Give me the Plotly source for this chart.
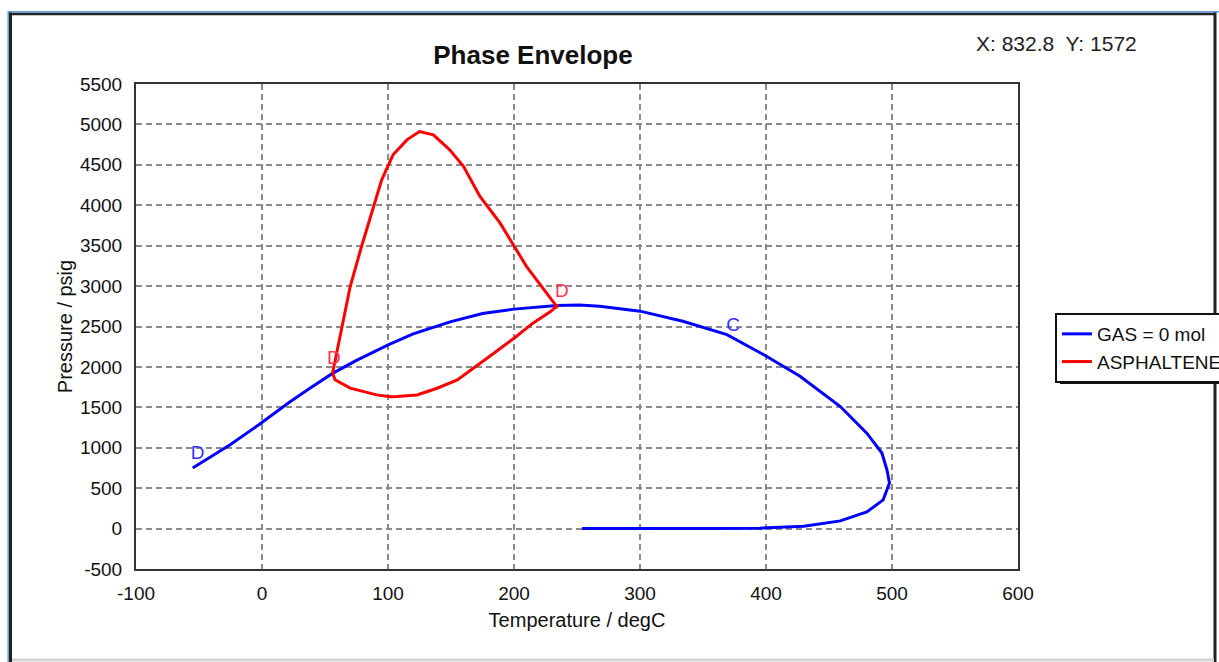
import plotly.graph_objects as go

# ---------------- data ----------------
gas_T = [-55, -40, -25, -2, 22, 38, 56, 75, 91, 101, 120, 150, 175, 200, 234, 252, 268,
         300, 334, 369, 400, 427, 459, 480, 492, 496, 498, 493, 480, 459, 430, 395, 350, 300, 254]
gas_P = [750, 900, 1040, 1290, 1565, 1735, 1920, 2080, 2200, 2280, 2410, 2560, 2660, 2715, 2760, 2767, 2750,
         2690, 2565, 2400, 2135, 1885, 1510, 1180, 935, 725, 565, 355, 205, 95, 30, 5, 2, 0, 0]

asph_T = [56, 59, 63, 70, 79, 87, 95, 104, 115, 125, 136, 149, 160, 173, 189, 210, 234, 235,
          229, 215, 200, 184, 168, 155, 139, 123, 107, 102, 91, 86, 70, 58, 56]
asph_P = [1922, 2150, 2460, 2994, 3490, 3900, 4314, 4624, 4809, 4912, 4871, 4686, 4479, 4108, 3778, 3241, 2746, 2767,
          2685, 2541, 2355, 2169, 1984, 1839, 1736, 1653, 1633, 1632, 1654, 1675, 1737, 1842, 1922]

gas_label_T = [-51, 374]
gas_label_P = [922, 2500]
gas_label_text = ["D", "C"]
asph_label_T = [57, 238]
asph_label_P = [2100, 2926]
asph_label_text = ["D", "D"]

x_ticks = [-100, 0, 100, 200, 300, 400, 500, 600]
y_ticks = [-500, 0, 500, 1000, 1500, 2000, 2500, 3000, 3500, 4000, 4500, 5000, 5500]

series_names = ["GAS = 0 mol", "ASPHALTENE"]
title_text = "Phase Envelope"
cursor_text = "X: 832.8  Y: 1572"

# ---------------- layout helpers ----------------
W, H = 1219, 662
L, R, T, B = 136, 1018, 84, 569
FONT = "Liberation Sans, Arial, sans-serif"


def fx(px):
    return (px - L) / (R - L)


def fy(py):
    return (B - py) / (B - T)


fig = go.Figure()
fig.add_trace(go.Scatter(x=gas_T, y=gas_P, mode="lines", name=series_names[0],
                         line=dict(color="#0000ff", width=3)))
fig.add_trace(go.Scatter(x=asph_T, y=asph_P, mode="lines", name=series_names[1],
                         line=dict(color="#ff0000", width=3)))
fig.add_trace(go.Scatter(x=gas_label_T, y=gas_label_P, mode="text", text=gas_label_text,
                         textfont=dict(family=FONT, size=19, color="#3333ff"), showlegend=False))
fig.add_trace(go.Scatter(x=asph_label_T, y=asph_label_P, mode="text", text=asph_label_text,
                         textfont=dict(family=FONT, size=19, color="#ff3355"), showlegend=False))

axis_common = dict(showgrid=True, gridcolor="#8a8a8a", gridwidth=1.5, griddash="6px,4px",
                   zeroline=False, showline=True, linecolor="#333333", linewidth=2, mirror=True,
                   ticks="", tickfont=dict(family=FONT, size=19, color="#111111"))

fig.update_xaxes(range=[-100, 600], tickvals=x_ticks, ticktext=[str(v) for v in x_ticks],
                 ticklabelstandoff=6,
                 title=dict(text="Temperature / degC", font=dict(family=FONT, size=20, color="#111111"),
                            standoff=10),
                 **axis_common)
fig.update_yaxes(range=[-500, 5500], tickvals=y_ticks, ticktext=[str(v) for v in y_ticks],
                 ticklabelstandoff=8,
                 title=dict(text="Pressure / psig", font=dict(family=FONT, size=20, color="#111111"),
                            standoff=2),
                 **axis_common)

shapes = []
# window frame
shapes.append(dict(type="line", xref="paper", yref="paper", x0=fx(8.2), x1=fx(8.2), y0=fy(11), y1=fy(700),
                   line=dict(color="#5b9bd5", width=1.5)))
shapes.append(dict(type="line", xref="paper", yref="paper", x0=fx(8), x1=fx(1230), y0=fy(11.8), y1=fy(11.8),
                   line=dict(color="#5b9bd5", width=1.5)))
shapes.append(dict(type="line", xref="paper", yref="paper", x0=fx(10.5), x1=fx(10.5), y0=fy(12.5), y1=fy(700),
                   line=dict(color="#222222", width=3)))
shapes.append(dict(type="line", xref="paper", yref="paper", x0=fx(9), x1=fx(1216), y0=fy(14), y1=fy(14),
                   line=dict(color="#222222", width=2.5)))
shapes.append(dict(type="line", xref="paper", yref="paper", x0=fx(1215), x1=fx(1215), y0=fy(12.5), y1=fy(700),
                   line=dict(color="#222222", width=3)))
shapes.append(dict(type="line", xref="paper", yref="paper", x0=fx(12), x1=fx(1214), y0=fy(660), y1=fy(660),
                   line=dict(color="#d4d4d4", width=3)))
# legend shadow
shapes.append(dict(type="rect", xref="paper", yref="paper", x0=fx(1060), x1=fx(1240), y0=fy(318), y1=fy(384),
                   fillcolor="#111111", line=dict(width=0), layer="above"))
fig.update_layout(shapes=shapes)

fig.add_annotation(xref="paper", yref="paper", x=fx(1056), y=fy(43), text=cursor_text, showarrow=False,
                   xanchor="center", yanchor="middle", font=dict(family=FONT, size=21, color="#222222"))

fig.update_layout(
    width=W, height=H, autosize=False,
    margin=dict(l=L, r=W - R, t=T, b=H - B, pad=0, autoexpand=False),
    paper_bgcolor="white", plot_bgcolor="white",
    title=dict(text="<b>" + title_text + "</b>", x=fx(533), xref="paper", xanchor="center",
               y=1 - 55 / H, yref="container", yanchor="middle",
               font=dict(family=FONT, size=26, color="#111111")),
    legend=dict(x=fx(1055), y=fy(313), xanchor="left", yanchor="top", bgcolor="white",
                bordercolor="#111111", borderwidth=2, itemwidth=30,
                font=dict(family=FONT, size=19, color="#111111"), tracegroupgap=0),
    showlegend=True,
)

fig.write_html("out.html")
